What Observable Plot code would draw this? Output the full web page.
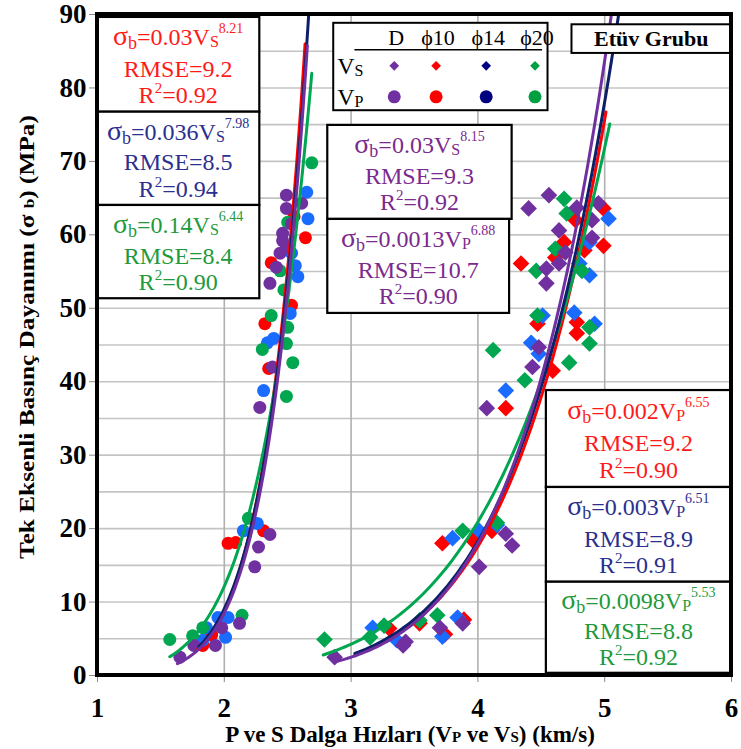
<!DOCTYPE html>
<html><head><meta charset="utf-8">
<script src="https://cdn.jsdelivr.net/npm/d3@7"></script>
<script src="https://cdn.jsdelivr.net/npm/@observablehq/plot@0.6"></script>
<style>
body{margin:0;background:#fff}
#chart{width:741px;height:749px}
</style>
</head><body><div id="chart"></div>
<script>
// ---------- DATA ----------
const xTicks = [1, 2, 3, 4, 5, 6];
const yTicks = [0, 10, 20, 30, 40, 50, 60, 70, 80, 90];
const yGrid = [5, 10, 15, 20, 25, 30, 35, 40, 45, 50, 55, 60, 65, 70, 75, 80, 85];
const xGrid = [2, 3, 4, 5];

const groupNames = ["D", "ϕ10", "ϕ14", "ϕ20"];

// Vs measurements (velocity km/s, strength MPa) -- drawn as circles
const vsD = [[2.49,65.4],[2.61,64.3],[2.49,63.6],[2.53,61.5],[2.46,60.2],[2.46,59.2],[2.49,58.3],[2.44,57.5],[2.41,55.6],[2.36,53.4],[2.38,42.0],[2.28,36.5],[2.36,19.2],[2.27,17.5],[2.24,14.8],[2.12,7.1],[1.98,6.5],[1.93,4.1],[1.76,4.1],[1.65,2.5]];
const vs10 = [[2.64,59.6],[2.55,62.5],[2.37,56.2],[2.53,50.4],[2.32,47.9],[2.35,41.8],[2.03,18.0],[2.09,18.1],[2.31,19.7],[1.83,4.1],[1.90,5.5]];
const vs14 = [[2.65,65.8],[2.66,62.2],[2.53,57.5],[2.56,55.8],[2.58,54.3],[2.52,49.3],[2.34,45.3],[2.39,45.9],[2.31,38.8],[2.15,19.7],[2.26,20.7],[2.03,7.9],[2.01,5.2],[1.86,6.5],[1.95,7.9],[1.83,4.8]];
const vs20 = [[2.69,69.8],[2.50,61.7],[2.47,52.5],[2.44,55.1],[2.37,49.0],[2.50,47.4],[2.30,44.4],[2.49,45.2],[2.54,42.6],[2.49,38.0],[2.19,21.4],[2.14,8.2],[1.83,6.5],[1.75,5.4],[1.57,4.9]];

// Vp measurements -- drawn as diamonds
const vpD = [[2.87,2.5],[3.41,4.1],[3.43,4.6],[3.70,6.5],[3.88,7.1],[4.22,19.3],[4.27,17.7],[4.01,14.8],[4.56,65.4],[4.40,63.6],[4.78,63.7],[4.95,64.3],[4.90,62.0],[4.64,60.6],[4.90,59.6],[4.69,57.6],[4.64,56.1],[4.54,55.4],[4.54,53.4],[4.48,44.7],[4.43,42.0],[4.07,36.4]];
const vp10 = [[3.30,6.4],[3.54,7.1],[3.74,5.6],[3.89,7.6],[3.72,18.0],[3.96,18.4],[4.11,19.7],[4.99,63.6],[4.77,62.0],[4.68,59.0],[4.99,58.5],[4.61,56.9],[4.84,57.9],[4.34,56.1],[4.47,47.9],[4.78,48.1],[4.78,46.6],[4.59,41.5],[4.22,36.4]];
const vp14 = [[3.17,6.5],[3.36,4.8],[3.72,5.3],[3.84,7.9],[3.80,18.7],[4.01,19.7],[4.15,20.5],[5.03,62.2],[4.88,59.0],[4.80,56.1],[4.88,54.5],[4.51,49.0],[4.76,49.4],[4.92,47.9],[4.42,45.3],[4.48,43.8],[4.22,38.8]];
const vp20 = [[2.79,4.9],[3.26,6.8],[3.15,5.2],[3.54,7.5],[3.68,8.2],[3.88,19.7],[4.15,20.8],[4.68,64.9],[4.70,62.9],[4.61,58.1],[4.46,55.1],[4.82,55.1],[4.47,49.0],[4.88,47.4],[4.88,45.2],[4.12,44.3],[4.72,42.6],[4.37,40.2]];

// Power-law trend lines sigma = a * V^b (as drawn)
const fitKey  = ["vsD","vs10","vs14","vs20","vpD","vp10","vp14","vp20"];
const fitA    = [0.03, 0.03, 0.036, 0.14, 0.0013, 0.002, 0.0022, 0.0098];
const fitB    = [8.15, 8.21, 7.98, 6.44, 6.88, 6.55, 6.51, 5.53];
const fitFrom = [1.63, 1.78, 1.80, 1.57, 2.87, 3.03, 3.03, 2.78];
const fitTo   = [2.655, 2.637, 2.67, 2.69, 5.06, 5.01, 5.11, 5.04];

// Equation box texts
const eqCoef  = ["0.03","0.03","0.036","0.14","0.0013","0.002","0.003","0.0098"];
const eqVar   = ["S","S","S","S","P","P","P","P"];
const eqExp   = ["8.15","8.21","7.98","6.44","6.88","6.55","6.51","5.53"];
const eqRmse  = ["9.3","9.2","8.5","8.4","10.7","9.2","8.9","8.8"];
const eqR2    = ["0.92","0.92","0.94","0.90","0.90","0.90","0.91","0.92"];

// ---------- STYLE / LAYOUT ----------
const dotColor  = ["#7030a0", "#ff0000", "#1a6bff", "#00a650"];
const lineColor = ["#7030a0", "#ff0000", "#0d1f66", "#00a650"];
const textColor = ["#7b2a8e", "#ff1a1a", "#2b2f8f", "#1e9a3c"];
const legendColor = ["#7030a0", "#ff0000", "#000080", "#00a040"];
// box extents in data units [x0, x1, yTop, yBottom], index follows fitKey
const eqBoxes = [
  [2.816, 4.27, 74.9, 62.1],
  [1.0, 2.28, 89.6, 76.7],
  [1.0, 2.28, 76.7, 64.0],
  [1.0, 2.28, 64.0, 51.3],
  [2.816, 4.25, 62.1, 49.3],
  [4.54, 6.0, 38.8, 25.6],
  [4.54, 6.0, 25.6, 12.7],
  [4.54, 6.0, 12.7, 0.3]
];
const FONT = "Liberation Serif";

const vsSets = [vsD, vs10, vs14, vs20];
const vpSets = [vpD, vp10, vp14, vp20];
const drawOrder = [1, 2, 3, 0];

const dotMarks = [];
for (const i of drawOrder) {
  dotMarks.push(Plot.dot(vsSets[i], {x: d => d[0], y: d => d[1], r: 6.5, fill: dotColor[i], stroke: "none", symbol: "circle"}));
}
for (const i of drawOrder) {
  dotMarks.push(Plot.dot(vpSets[i], {x: d => d[0], y: d => d[1], r: 7.5, fill: dotColor[i], stroke: "none", symbol: "diamond2"}));
}

const lineMarks = [];
const lineOrder = [1, 3, 2, 0, 5, 7, 6, 4];
for (const k of lineOrder) {
  const n = 80, pts = [];
  for (let j = 0; j <= n; j++) {
    const v = fitFrom[k] + (fitTo[k] - fitFrom[k]) * j / n;
    pts.push({v, s: fitA[k] * Math.pow(v, fitB[k])});
  }
  lineMarks.push(Plot.line(pts, {x: "v", y: "s", stroke: lineColor[k % 4], strokeWidth: 3, clip: true}));
}

const plot = Plot.plot({
  width: 741, height: 749,
  marginLeft: 97, marginRight: 10, marginTop: 14, marginBottom: 74,
  x: {domain: [1, 6]},
  y: {domain: [0, 90]},
  marks: [
    Plot.ruleY(yGrid, {stroke: "#c4c4c4", strokeWidth: 1.6}),
    Plot.ruleX(xGrid, {stroke: "#b0b0b0", strokeWidth: 1.6}),
    ...dotMarks,
    ...lineMarks,
    Plot.axisY(yTicks, {tickSize: 8, tickPadding: 3, fontSize: 27, fontWeight: "bold", label: null, stroke: "#888", tickFormat: d => String(d)}),
    Plot.axisX(xTicks, {tickSize: 7, tickPadding: 15, fontSize: 27, fontWeight: "bold", label: null, stroke: "#888", tickFormat: d => String(d)})
  ]
});
document.getElementById("chart").appendChild(plot);

// ---------- ANNOTATIONS ----------
const svg = d3.select(plot);
const sx = plot.scale("x"), sy = plot.scale("y");
const X = v => sx.apply(v), Y = v => sy.apply(v);

function eqBox(k) {
  const [x0, x1, yt, yb] = eqBoxes[k];
  const px0 = X(x0), px1 = X(x1), py0 = Y(yt), py1 = Y(yb);
  const col = textColor[k % 4];
  const g = svg.append("g").attr("fill", col);
  g.append("rect").attr("x", px0).attr("y", py0).attr("width", px1 - px0).attr("height", py1 - py0)
    .attr("fill", "#fff").attr("stroke", "#000").attr("stroke-width", 2.2);
  const cx = (px0 + px1) / 2, h = py1 - py0;
  const t1 = g.append("text").attr("x", cx).attr("y", py0 + h * 0.30).attr("text-anchor", "middle").style("font-size", "24px");
  t1.append("tspan").text("σ").style("font-size", "28px");
  t1.append("tspan").text("b").attr("dy", 4).style("font-size", "18px");
  t1.append("tspan").text("=" + eqCoef[k] + "V").attr("dy", -4);
  t1.append("tspan").text(eqVar[k]).attr("dy", 2).style("font-size", "16px");
  t1.append("tspan").text(eqExp[k]).attr("dy", -14).style("font-size", "14px");
  g.append("text").attr("x", cx).attr("y", py0 + h * 0.63).attr("text-anchor", "middle").style("font-size", "24px")
    .text("RMSE=" + eqRmse[k]);
  const t3 = g.append("text").attr("x", cx).attr("y", py0 + h * 0.91).attr("text-anchor", "middle").style("font-size", "24px");
  t3.append("tspan").text("R");
  t3.append("tspan").text("2").attr("dy", -10).style("font-size", "15px");
  t3.append("tspan").text("=" + eqR2[k]).attr("dy", 10);
}
for (let k = 0; k < 8; k++) eqBox(k);

// Legend box
{
  const px0 = X(2.863), px1 = X(4.553), py0 = Y(88.8), py1 = Y(76.9);
  const g = svg.append("g");
  g.append("rect").attr("x", px0).attr("y", py0).attr("width", px1 - px0).attr("height", py1 - py0)
    .attr("fill", "#fff").attr("stroke", "#000").attr("stroke-width", 2);
  const colX = [X(3.36), X(3.69), X(4.085), X(4.47)];
  groupNames.forEach((nm, i) => {
    g.append("text").attr("x", colX[i]).attr("y", py0 + 22).attr("text-anchor", "middle")
      .style("font-size", "22px").text(nm);
  });
  g.append("line").attr("x1", X(3.03)).attr("x2", X(4.51)).attr("y1", py0 + 27).attr("y2", py0 + 27)
    .attr("stroke", "#000").attr("stroke-width", 1.5);
  const rowY = [py0 + 43, py0 + 74];
  const rowLab = [["V", "S"], ["V", "P"]];
  rowLab.forEach((lab, r) => {
    const t = g.append("text").attr("x", px0 + 4).attr("y", rowY[r] + 8).attr("text-anchor", "start").style("font-size", "24px");
    t.append("tspan").text(lab[0]);
    t.append("tspan").text(lab[1]).attr("dy", 2).style("font-size", "16px");
  });
  groupNames.forEach((nm, i) => {
    g.append("path").attr("d", d3.symbol(d3.symbolDiamond2, 60)())
      .attr("transform", `translate(${colX[i] - 2},${rowY[0]})`).attr("fill", legendColor[i]);
    g.append("circle").attr("cx", colX[i] - 2).attr("cy", rowY[1]).attr("r", 6.5).attr("fill", legendColor[i]);
  });
}
// Group title box
{
  const px0 = X(4.742), px1 = X(6.0), py0 = Y(88.6), py1 = Y(84.7);
  const g = svg.append("g");
  g.append("rect").attr("x", px0).attr("y", py0).attr("width", px1 - px0).attr("height", py1 - py0)
    .attr("fill", "#fff").attr("stroke", "#000").attr("stroke-width", 2);
  g.append("text").attr("x", (px0 + px1) / 2).attr("y", py1 - 7).attr("text-anchor", "middle")
    .style("font-size", "22px").style("font-weight", "bold").text("Etüv Grubu");
}
// Frame on top
{
  const [a, b] = sx.range, [c, d] = sy.range;
  svg.append("rect").attr("x", a).attr("y", d).attr("width", b - a).attr("height", c - d)
    .attr("fill", "none").attr("stroke", "#000").attr("stroke-width", 4);
}
// Axis titles
{
  const g = svg.append("g").style("font-weight", "bold");
  const tx = g.append("text").attr("x", (X(1) + X(6)) / 2 - 4).attr("y", 742).attr("text-anchor", "middle").style("font-size", "23px");
  tx.append("tspan").text("P ve S Dalga Hızları (V");
  tx.append("tspan").text("P").style("font-size", "15px");
  tx.append("tspan").text(" ve V");
  tx.append("tspan").text("S").style("font-size", "15px");
  tx.append("tspan").text(") (km/s)");
  const ty = g.append("text").attr("transform", "translate(34,337) rotate(-90) scale(1.15,1)").attr("text-anchor", "middle").style("font-size", "22px");
  ty.append("tspan").text("Tek Eksenli Basınç Dayanımı (σ ");
  ty.append("tspan").text("b").style("font-size", "15px");
  ty.append("tspan").text(") (MPa)");
}
// Serif font on every text
svg.attr("font-family", FONT).style("font-family", FONT);
svg.selectAll("g").attr("font-family", FONT);
svg.selectAll("text").attr("font-family", FONT).style("font-family", FONT, "important");
</script></body></html>
